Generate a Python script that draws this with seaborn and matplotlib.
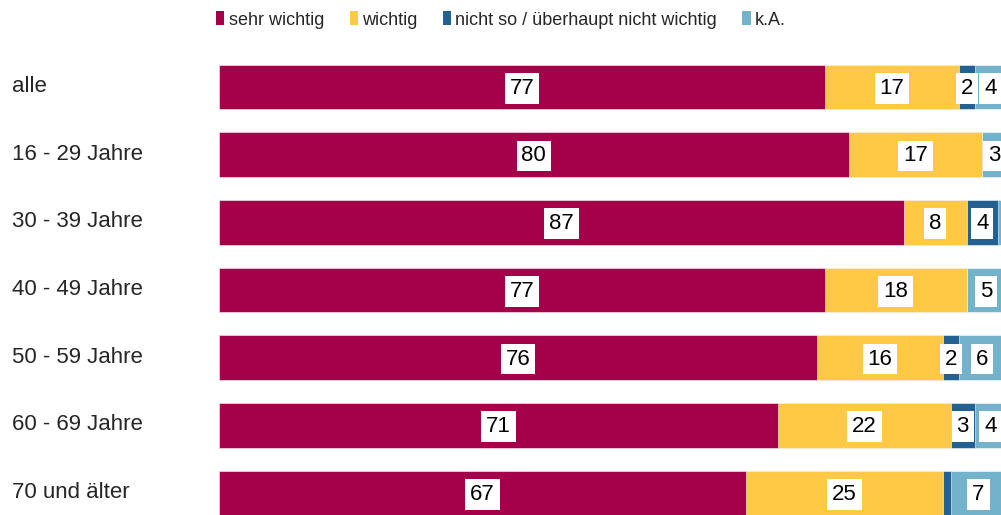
import pandas as pd
import numpy as np
import matplotlib.pyplot as plt
import matplotlib.transforms as mtransforms
import seaborn as sns
from matplotlib.patches import Patch

# data
groups = ["alle", "16 - 29 Jahre", "30 - 39 Jahre", "40 - 49 Jahre",
          "50 - 59 Jahre", "60 - 69 Jahre", "70 und älter"]
sehr_wichtig = [77, 80, 87, 77, 76, 71, 67]
wichtig = [17, 17, 8, 18, 16, 22, 25]
nicht_so = [2, 0, 4, 0, 2, 3, 1]
keine_angabe = [4, 3, 1, 5, 6, 4, 7]

series_names = ["sehr wichtig", "wichtig",
                "nicht so / überhaupt nicht wichtig", "k.A."]
colors = ["#A5004A", "#FFC845", "#236192", "#72B2CA"]

df = pd.DataFrame({"Gruppe": groups,
                   series_names[0]: sehr_wichtig,
                   series_names[1]: wichtig,
                   series_names[2]: nicht_so,
                   series_names[3]: keine_angabe})

sns.set_style("white")
plt.rcParams["font.family"] = ["Liberation Sans", "DejaVu Sans"]

fig = plt.figure(figsize=(10.01, 5.15), dpi=100)
# axes reaches a bit past the right/bottom edge like the original crop
ax = fig.add_axes([219 / 1001, -12 / 515, 787 / 1001, 474 / 515])

# stacked bars: draw cumulative totals from the back to the front
cum = df[series_names].cumsum(axis=1)
for name, col in reversed(list(zip(series_names, colors))):
    sns.barplot(data=cum.assign(Gruppe=df["Gruppe"]), x=name, y="Gruppe",
                orient="h", color=col, width=0.66, ax=ax,
                edgecolor="white", linewidth=0.4, saturation=1)

# value labels in white boxes
starts = cum - df[series_names]
for i in range(len(groups)):
    for name in series_names:
        val = df.loc[i, name]
        if val < 2:
            continue
        xc = starts.loc[i, name] + val / 2
        ax.text(xc, i + 0.02, str(val), ha="center", va="center", fontsize=16,
                color="black",
                bbox=dict(facecolor="white", edgecolor="none", pad=3.5))

ax.set_xlim(0, 100)
ax.set_ylim(6.5, -0.5)
ax.set_xlabel("")
ax.set_ylabel("")
ax.set_xticks([])
ax.tick_params(axis="y", length=0, pad=207 * 0.72, labelsize=16)
# group labels sit a little above the bar centre in the original
shift = mtransforms.ScaledTranslation(0, 3 / 100, fig.dpi_scale_trans)
for lab in ax.get_yticklabels():
    lab.set_horizontalalignment("left")
    lab.set_transform(lab.get_transform() + shift)
sns.despine(ax=ax, left=True, bottom=True)

handles = [Patch(facecolor=c, edgecolor="none") for c in colors]
fig.legend(handles, series_names, loc="center left",
           bbox_to_anchor=(209 / 1001, 1 - 20 / 515), ncol=4, frameon=False,
           fontsize=13, handlelength=0.45, handleheight=0.8,
           handletextpad=0.25, columnspacing=1.4, borderaxespad=0)

fig.savefig("out.png", dpi=100)
